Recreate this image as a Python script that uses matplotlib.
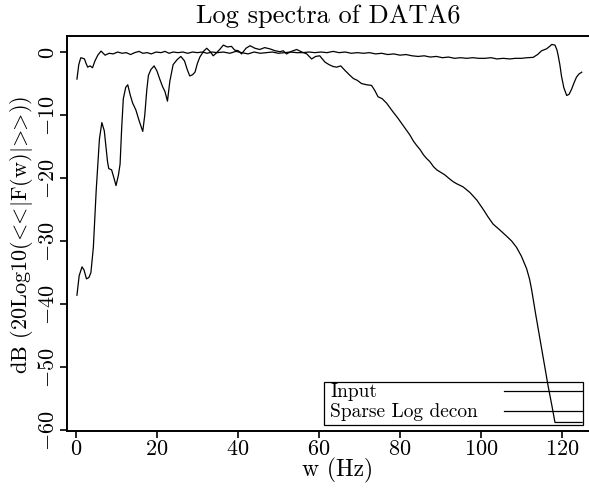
import matplotlib
matplotlib.use("Agg")
import matplotlib.pyplot as plt
from matplotlib.patches import Rectangle

plt.rcParams['font.family'] = 'cmr10'
plt.rcParams['mathtext.fontset'] = 'cm'
plt.rcParams['axes.formatter.use_mathtext'] = True

# Input spectrum (dB)
input_freq = [0.25, 0.8, 1.5, 2.0, 2.6, 3.2, 3.7, 4.3, 5.0, 5.8, 6.4, 7.0, 7.8, 8.1, 8.8,
              9.3, 9.9, 10.5, 10.9, 11.3, 11.7, 12.3, 12.8, 13.4, 14.0, 14.8, 15.6, 16.5,
              17.0, 17.5, 17.9, 18.5, 19.3, 20.0, 20.7, 21.4, 22.0, 22.6, 23.2, 24.0, 25.0,
              25.9, 26.8, 27.5, 28.1, 28.8, 29.4, 30.0, 30.6, 31.5, 32.3, 33.1, 33.9, 34.6,
              35.5, 36.4, 37.4, 38.4, 39.2, 40.1, 40.9, 42.0, 43.0, 44.2, 45.4, 46.6, 47.9,
              49.2, 50.4, 51.2, 52.0, 53.2, 54.5, 55.8, 57.0, 58.2, 59.2, 60.2, 61.5, 62.5,
              63.5, 64.4, 65.4, 66.4, 67.5, 68.5, 69.5, 70.5, 71.8, 73.0, 73.8, 74.6, 75.6,
              76.7, 77.5, 78.3, 79.4, 80.4, 81.5, 82.5, 83.3, 84.1, 85.0, 85.8, 86.6, 87.4,
              88.3, 89.1, 90.1, 91.1, 92.2, 93.2, 94.0, 95.6, 97.3, 99.0, 100.6, 101.8,
              103.0, 104.6, 106.3, 107.6, 108.8, 110.0, 111.3, 112.0, 112.5, 113.5, 114.6,
              115.6, 116.6, 117.5, 118.3, 119.5, 125.0]
input_db = [-38.6, -35.5, -34.1, -34.6, -36.0, -35.8, -35.0, -31.0, -22.0, -13.8, -11.2,
            -12.5, -17.4, -18.5, -18.7, -19.8, -21.2, -19.5, -17.8, -12.0, -7.4, -5.6, -5.2,
            -6.8, -8.1, -9.2, -10.9, -12.6, -10.0, -6.0, -3.7, -2.8, -2.2, -3.0, -4.3, -5.5,
            -6.3, -7.8, -4.6, -2.0, -1.2, -0.7, -1.4, -2.8, -3.8, -3.6, -3.2, -1.8, -0.8,
            0.1, 0.6, 0.1, -0.6, -0.2, 0.4, 1.1, 0.8, 0.9, 0.3, 0.2, -0.3, 0.6, 1.0, 0.6,
            0.4, 0.7, 0.5, 0.2, 0.05, 0.2, -0.3, 0.1, 0.4, 0.0, -0.3, -1.1, -0.7, -0.6,
            -1.6, -2.0, -2.3, -2.4, -2.2, -2.9, -3.6, -4.2, -4.5, -5.0, -5.2, -5.3, -6.1,
            -7.1, -7.4, -8.1, -8.8, -9.5, -10.4, -11.3, -12.3, -13.2, -14.1, -14.8, -15.5,
            -16.3, -16.9, -17.4, -18.2, -18.7, -19.1, -19.5, -20.1, -20.6, -20.9, -21.4,
            -22.3, -23.5, -25.0, -26.2, -27.3, -28.2, -29.2, -30.0, -31.0, -32.4, -34.4,
            -36.0, -37.6, -41.5, -45.6, -49.3, -53.0, -56.0, -58.8, -58.8, -58.8]

# Sparse Log decon spectrum (dB)
decon_freq = [0.25, 0.7, 1.2, 1.7, 2.1, 2.5, 2.9, 3.5, 4.1, 4.7, 5.4, 6.2, 7.2, 8.2, 9.2,
              10.3, 11.4, 12.4, 13.5, 14.5, 15.6, 16.5, 17.6, 18.6, 19.8, 21.0, 22.0, 23.0,
              24.0, 25.2, 26.4, 27.6, 28.8, 30.0, 31.2, 32.4, 33.6, 35.0, 36.4, 38.0, 39.5,
              41.0, 42.5, 44.0, 45.5, 47.0, 48.5, 50.0, 51.5, 53.0, 54.5, 56.0, 57.5, 59.0,
              60.5, 62.0, 63.5, 65.0, 66.5, 68.0, 69.5, 71.0, 72.5, 74.0, 75.5, 77.0, 78.5,
              80.0, 81.5, 83.0, 84.5, 86.0, 87.5, 89.0, 90.5, 92.0, 93.5, 95.0, 96.5, 98.0,
              99.5, 101.0, 102.5, 104.0, 105.5, 107.2, 108.5, 110.0, 111.5, 112.9, 114.0,
              115.0, 116.2, 117.0, 117.5, 118.3, 118.8, 119.1, 119.5, 119.9, 120.5, 121.2,
              121.8, 122.4, 123.0, 123.6, 124.2, 124.9]
decon_db = [-4.3, -2.0, -0.9, -1.0, -1.1, -1.8, -2.4, -2.2, -2.5, -1.4, -0.5, 0.15, -0.5,
            -0.2, -0.3, 0.0, -0.2, -0.1, -0.4, -0.1, 0.1, -0.2, -0.1, -0.3, 0.0, -0.1, 0.1,
            -0.2, 0.0, -0.1, 0.0, -0.2, 0.0, -0.1, 0.0, -0.2, 0.0, -0.1, 0.0, -0.2, 0.1,
            -0.1, -0.3, 0.0, -0.2, -0.1, 0.0, -0.2, -0.1, 0.0, -0.1, -0.1, 0.0, -0.1, 0.0,
            -0.1, 0.1, -0.1, 0.0, -0.2, -0.1, -0.2, -0.1, -0.3, -0.2, -0.4, -0.3, -0.5,
            -0.4, -0.6, -0.7, -0.6, -0.8, -0.7, -0.9, -0.8, -1.0, -0.9, -1.0, -0.9, -1.0,
            -1.0, -0.9, -1.1, -1.0, -1.1, -1.0, -1.0, -0.9, -0.85, -0.4, 0.2, 0.5, 0.9,
            1.2, 1.1, 0.3, -0.6, -2.0, -3.8, -5.7, -6.9, -6.7, -5.9, -4.9, -4.0, -3.5, -3.2]

labels = ['Input', 'Sparse Log decon']

fig = plt.figure(figsize=(5.89, 4.89), dpi=100)
ax = fig.add_axes([0.1138, 0.1166, 0.8862, 0.8077])

ax.plot(input_freq, input_db, color='black', lw=0.9)
ax.plot(decon_freq, decon_db, color='black', lw=0.9)

ax.set_xlim(-2.2, 126.7)
ax.set_ylim(-60.15, 2.54)
ax.set_xticks([0, 20, 40, 60, 80, 100, 120])
ax.set_yticks([0, -10, -20, -30, -40, -50, -60])
ax.tick_params(direction='out', length=5, width=1.2, labelsize=16)
ax.tick_params(axis='y', pad=1.5)
ax.tick_params(axis='x', pad=0.5)
plt.setp(ax.get_yticklabels(), rotation=90, va='center')
ax.spines['right'].set_visible(False)
for s in ['left', 'bottom', 'top']:
    ax.spines[s].set_linewidth(1.4)

ax.set_title('Log spectra of DATA6', fontsize=19, pad=10)
ax.set_xlabel('w (Hz)', fontsize=17)
ax.set_ylabel(r'dB (20Log10($\!<\!\!\!<\!|$F(w)$|\!>\!\!\!>\!$))', fontsize=16)
ax.xaxis.set_label_coords(0.519, -0.066)
ax.yaxis.set_label_coords(-0.062, 0.5)

# legend: text on the left, sample lines on the right
ax.add_patch(Rectangle((0.4923, 0.0152), 0.4962, 0.1088, transform=ax.transAxes,
                       fill=False, lw=0.9, color='black'))
ax.text(0.504, 0.0886, labels[0], transform=ax.transAxes, fontsize=14, va='baseline')
ax.text(0.504, 0.038, labels[1], transform=ax.transAxes, fontsize=14, va='baseline')
ax.plot([0.837, 0.9866], [0.1013, 0.1013], transform=ax.transAxes, color='black', lw=0.9)
ax.plot([0.837, 0.9866], [0.0506, 0.0506], transform=ax.transAxes, color='black', lw=0.9)

fig.savefig('out.png', dpi=100)
